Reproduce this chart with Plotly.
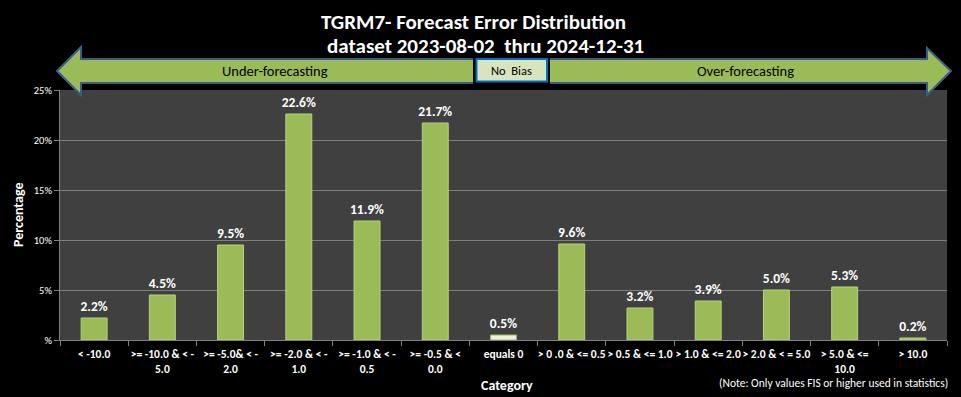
import plotly.graph_objects as go

categories = ["< -10.0", ">= -10.0 & < -<br>5.0", ">= -5.0& < -<br>2.0", ">= -2.0 & < -<br>1.0",
              ">= -1.0 & < -<br>0.5", ">= -0.5 & <<br>0.0", "equals 0", "> 0 .0 & <= 0.5",
              "> 0.5 & <= 1.0", "> 1.0 & <= 2.0", "> 2.0 & < = 5.0", "> 5.0 & <=<br>10.0", "> 10.0"]
values = [2.2, 4.5, 9.5, 22.6, 11.9, 21.7, 0.5, 9.6, 3.2, 3.9, 5.0, 5.3, 0.2]
labels = ["2.2%", "4.5%", "9.5%", "22.6%", "11.9%", "21.7%", "0.5%", "9.6%", "3.2%", "3.9%", "5.0%", "5.3%", "0.2%"]
y_tickvals = [0, 5, 10, 15, 20, 25]
y_ticktext = ["%", "5%", "10%", "15%", "20%", "25%"]

FONT = "Carlito, Lato, sans-serif"
W, H = 961, 397
L, R, T, B = 60, 14, 90, 57
PW, PH = W - L - R, H - T - B

def px(x):
    return (x - L) / PW

def py(y):
    return (H - B - y) / PH

colors = ["#9bbb59"] * len(values)
line_colors = ["#b8d47a"] * len(values)
colors[6] = "#ebf1de"
line_colors[6] = "#9bbb59"

fig = go.Figure()
fig.add_trace(go.Bar(
    x=categories, y=values, text=labels, textposition="outside", constraintext="none",
    textfont=dict(color="white", size=13.5, family=FONT),
    texttemplate="<b>%{text}</b>",
    marker=dict(color=colors, line=dict(color=line_colors, width=1)),
    width=0.38, cliponaxis=False, hoverinfo="skip",
))

# double arrow
pts = [(57, 71), (81, 47), (81, 59), (927, 59), (927, 48), (951, 71), (927, 95), (927, 83), (81, 83), (81, 95)]
path = "M " + " L ".join(f"{px(a):.5f},{py(b):.5f}" for a, b in pts) + " Z"
shapes = [
    dict(type="path", path=path, xref="paper", yref="paper", fillcolor="#9bbb59",
         line=dict(color="#385d8a", width=2), layer="above"),
    dict(type="rect", xref="paper", yref="paper", x0=px(473), x1=px(550), y0=py(84.5), y1=py(57.5),
         fillcolor="black", line=dict(width=0), layer="above"),
    dict(type="rect", xref="paper", yref="paper", x0=px(476.5), x1=px(547), y0=py(81.5), y1=py(59),
         fillcolor="#d7e4bd", line=dict(color="#0070c0", width=2), layer="above"),
]

def ann(text, x, y, size, color="white", xanchor="center", angle=0):
    return dict(text=text, x=px(x), y=py(y), xref="paper", yref="paper", xanchor=xanchor,
                yanchor="middle", textangle=angle, showarrow=False,
                font=dict(size=size, color=color, family=FONT))

annotations = [
    ann("<b>TGRM7- Forecast Error Distribution</b>", 473, 22, 21),
    ann("<b>dataset 2023-08-02  thru 2024-12-31</b>", 485, 46, 21),
    ann("Under-forecasting", 275, 71, 14.5, "black"),
    ann("Over-forecasting", 745, 71, 14.5, "black"),
    ann("No  Bias", 511.5, 70.5, 12.5, "black"),
    ann("<b>Percentage</b>", 18, 215, 14, angle=-90),
    ann("<b>Category</b>", 507, 385, 14),
    ann("(Note: Only values FIS or higher used in statistics)", 950, 383, 11.5, xanchor="right"),
]

fig.update_layout(
    width=W, height=H, margin=dict(l=L, r=R, t=T, b=B, autoexpand=False),
    paper_bgcolor="black", plot_bgcolor="#404040", showlegend=False,
    font=dict(family=FONT, color="white"),
    shapes=shapes, annotations=annotations,
    xaxis=dict(type="category", tickson="boundaries", ticks="outside", ticklen=5, tickcolor="#808080",
               showline=True, linecolor="#808080", linewidth=1, showgrid=False,
               tickfont=dict(size=11.5, color="white", family=FONT), tickangle=0, ticklabelstandoff=3,
               tickvals=categories, ticktext=["<b>" + c.replace("<br>", "</b><br><b>") + "</b>" for c in categories]),
    yaxis=dict(range=[0, 25], tickvals=y_tickvals, ticktext=y_ticktext, ticks="outside", ticklen=5,
               tickcolor="#808080", showline=True, linecolor="#808080", linewidth=1,
               gridcolor="#7f7f7f", gridwidth=1, zeroline=False,
               tickfont=dict(size=10.5, color="white", family=FONT)),
)

fig.write_html("out.html", config={"displayModeBar": False},
               post_script="document.body.style.margin='0';document.body.style.background='black';")
